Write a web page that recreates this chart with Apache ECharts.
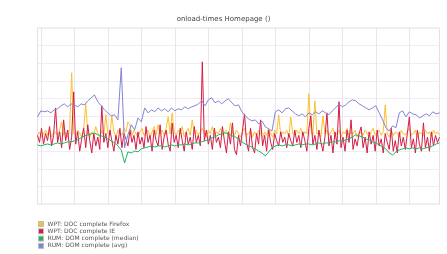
<!DOCTYPE html>
<html>
<head>
<meta charset="utf-8">
<script src="https://cdn.jsdelivr.net/npm/echarts@6/dist/echarts.min.js"></script>
<style>html,body{margin:0;padding:0;background:#fff}#c{width:447px;height:254px}</style>
</head>
<body>
<div id="c"></div>
<script>
var titleText = "onload-times Homepage ()";
var seriesNames = ["WPT: DOC complete Firefox", "WPT: DOC complete IE", "RUM: DOM complete (median)", "RUM: DOM complete (avg)"];

var firefox = [
3.9,4.1,3.8,4.0,4.2,3.9,4.3,3.8,4.0,4.1,
3.9,4.2,4.67,3.9,4.1,3.8,4.3,7.46,4.0,3.9,
4.2,4.0,3.8,4.3,5.69,4.0,3.8,4.1,3.9,4.4,
4.0,3.8,4.2,3.9,5.07,4.0,3.9,5.01,4.1,3.8,
4.2,4.0,3.9,4.3,4.1,4.67,4.5,3.9,4.2,4.0,
3.8,4.1,4.3,3.9,4.0,4.2,3.8,4.1,4.4,3.9,
4.5,4.0,4.2,3.9,4.3,4.95,4.0,5.18,4.1,3.9,
4.2,4.0,4.4,3.8,4.1,4.3,3.9,4.78,4.0,4.2,
3.9,4.1,4.3,4.0,3.8,4.2,4.0,4.4,3.9,4.1,
4.0,4.3,3.9,4.1,4.2,3.8,4.61,4.0,3.9,4.2,
4.0,3.8,4.1,4.3,3.9,4.0,4.2,3.8,4.1,3.9,
4.2,4.0,3.8,4.1,3.9,4.3,4.0,3.8,4.2,4.0,
5.07,3.9,4.1,4.0,4.2,3.8,4.95,4.0,3.9,4.2,
4.0,4.3,3.9,4.1,4.0,6.26,4.2,3.9,5.86,4.0,
4.1,3.8,5.01,4.0,4.2,3.9,4.1,4.3,3.9,4.0,
4.2,3.8,4.1,4.0,4.3,3.9,4.1,4.0,4.2,3.8,
4.0,4.1,3.9,4.2,4.0,3.8,4.1,4.3,3.9,4.0,
4.2,3.9,4.1,5.63,4.0,3.8,4.2,3.9,4.1,4.0,
3.8,4.2,4.0,3.9,4.1,4.3,3.9,4.0,4.2,3.8,
4.1,4.0,3.9,4.2,4.0,4.1,3.8,4.2,4.0,4.1,
3.9];

var ie = [
3.9,3.5,4.3,3.4,4.0,3.6,4.4,3.3,3.9,5.46,
3.5,4.1,3.2,4.78,3.6,4.2,3.1,3.8,6.37,3.4,
4.1,3.0,3.7,4.3,3.2,4.5,3.6,2.9,4.0,3.3,
3.8,3.1,5.58,3.5,4.0,3.2,4.2,3.6,3.0,3.9,
3.4,4.3,3.2,4.0,3.7,3.3,4.2,3.5,3.9,3.1,
4.1,3.4,3.8,3.2,4.4,3.5,3.9,3.0,4.2,3.6,
3.3,4.5,3.1,3.8,4.2,3.4,3.0,4.6,3.5,3.9,
3.2,4.3,3.6,3.0,4.1,3.4,3.8,3.1,4.4,3.5,
3.9,3.3,8.08,3.6,4.2,3.4,3.9,3.1,4.3,3.5,
3.8,3.2,4.4,3.6,2.9,4.1,3.4,4.61,3.1,2.8,
3.9,3.3,4.2,5.12,3.5,3.0,4.3,3.2,2.9,4.0,
3.4,4.78,3.3,3.9,3.0,4.2,3.5,3.1,4.0,3.6,
3.3,4.1,3.5,3.8,3.2,4.0,3.6,3.3,4.2,3.5,
3.9,3.2,4.1,3.6,3.0,4.3,5.01,3.4,3.9,3.1,
4.2,3.5,3.0,3.8,5.18,3.3,3.9,2.9,4.1,3.4,
5.81,3.2,3.8,3.0,4.2,3.5,4.78,3.1,3.7,3.3,
4.0,4.38,3.2,3.8,2.9,4.1,3.4,3.9,3.0,4.2,
3.3,3.7,2.9,4.0,3.5,3.1,4.3,3.0,3.6,2.9,
4.1,3.3,3.8,3.1,4.0,4.95,3.2,3.7,2.9,4.2,
3.4,3.0,4.61,3.2,3.8,3.0,4.1,3.3,3.9,3.5,
3.8];

var rumMedian = [
3.36,3.30,3.36,3.41,3.36,3.41,3.47,3.41,3.47,3.53,
3.53,3.59,3.64,3.76,3.87,3.93,3.98,4.04,3.93,3.87,
3.81,3.70,3.59,3.47,3.30,3.07,2.33,2.96,2.90,3.01,
2.96,3.13,3.19,3.24,3.30,3.24,3.30,3.30,3.24,3.30,
3.36,3.30,3.36,3.36,3.41,3.36,3.41,3.47,3.47,3.53,
3.59,3.64,3.76,3.81,3.93,3.98,4.04,3.98,3.87,3.81,
3.70,3.53,3.41,3.30,3.24,3.13,3.01,2.90,2.73,2.96,
3.19,3.30,3.36,3.30,3.36,3.36,3.30,3.36,3.41,3.36,
3.41,3.41,3.36,3.41,3.47,3.41,3.47,3.47,3.53,3.53,
3.59,3.59,3.64,3.70,3.81,3.93,3.87,3.81,3.70,3.64,
3.53,3.47,3.36,3.24,3.13,2.90,2.79,2.96,3.07,3.13,
3.19,3.13,3.19,3.13,3.19,3.13,3.19,3.24,3.30,3.41,
3.47];

var rumAvg = [
4.95,5.29,5.24,5.29,5.18,5.35,5.41,5.58,5.69,5.52,
5.69,5.63,5.52,5.69,5.63,5.86,6.03,6.20,5.81,5.58,
5.35,5.18,5.01,5.07,4.78,7.74,3.20,3.93,4.50,4.21,
4.89,4.67,5.46,5.18,5.35,5.24,5.46,5.29,5.41,5.24,
5.46,5.29,5.41,5.35,5.52,5.41,5.52,5.58,5.69,5.86,
5.58,5.92,6.03,5.75,5.86,5.69,5.86,5.98,5.75,5.58,
5.63,5.24,5.01,4.84,4.72,4.78,4.55,4.72,4.38,4.27,
4.15,5.24,5.35,5.18,5.41,5.46,5.29,5.12,5.01,5.12,
4.95,5.18,5.07,5.24,5.12,5.29,5.18,5.07,5.29,5.46,
5.69,5.52,5.63,5.81,5.92,5.86,5.69,5.58,5.46,5.35,
5.46,5.58,5.18,4.78,4.33,4.15,4.44,4.33,5.18,5.29,
4.95,5.24,5.12,5.07,4.89,5.01,5.12,5.01,5.24,5.12,
5.18];

var coarseIdx = rumAvg.map(function(_, i){ return i; });
var fineIdx = ie.map(function(_, i){ return i; });

var colors = ["#fbc02d", "#d41c45", "#22b363", "#8484d4"];
var gridColor = "#f3ebf3";

var chart = echarts.init(document.getElementById('c'), null, {renderer: 'canvas'});
chart.setOption({
  animation: false,
  color: colors,
  title: {
    text: titleText, left: 'center', top: 11,
    textStyle: {fontFamily: 'DejaVu Sans', fontSize: 7, fontWeight: 'normal', color: '#444'}
  },
  legend: {
    orient: 'vertical', left: 38, top: 221, height: 40, padding: 0, itemGap: 1.3,
    itemWidth: 5, itemHeight: 5, icon: 'rect',
    itemStyle: {borderColor: '#bbb', borderWidth: 1},
    textStyle: {fontFamily: 'DejaVu Sans', fontSize: 6, color: '#555', lineHeight: 6, padding: [0,0,0,-1]},
    data: seriesNames
  },
  grid: {left: 37.5, right: 7.5, top: 28, bottom: 50, show: true, borderColor: '#e6e0e6', borderWidth: 1},
  xAxis: [
    {type: 'category', data: coarseIdx, boundaryGap: false,
     axisLine: {show: false}, axisTick: {show: false}, axisLabel: {show: false},
     splitLine: {show: true, interval: function(i){ return i % 10 === 1; }, lineStyle: {color: '#ece3ec', width: 1}}},
    {type: 'category', data: fineIdx, boundaryGap: false, show: false}
  ],
  yAxis: {
    type: 'value', min: 0, max: 10, interval: 1,
    axisLine: {show: false}, axisTick: {show: false}, axisLabel: {show: false},
    splitLine: {lineStyle: {color: gridColor, width: 1}}
  },
  series: [
    {name: seriesNames[0], type: 'line', xAxisIndex: 1, data: firefox, symbol: 'none', lineStyle: {width: 1}},
    {name: seriesNames[1], type: 'line', xAxisIndex: 1, data: ie, symbol: 'none', lineStyle: {width: 1}},
    {name: seriesNames[2], type: 'line', xAxisIndex: 0, data: rumMedian, symbol: 'none', lineStyle: {width: 1}},
    {name: seriesNames[3], type: 'line', xAxisIndex: 0, data: rumAvg, symbol: 'none', lineStyle: {width: 1}}
  ]
});
</script>
</body>
</html>
